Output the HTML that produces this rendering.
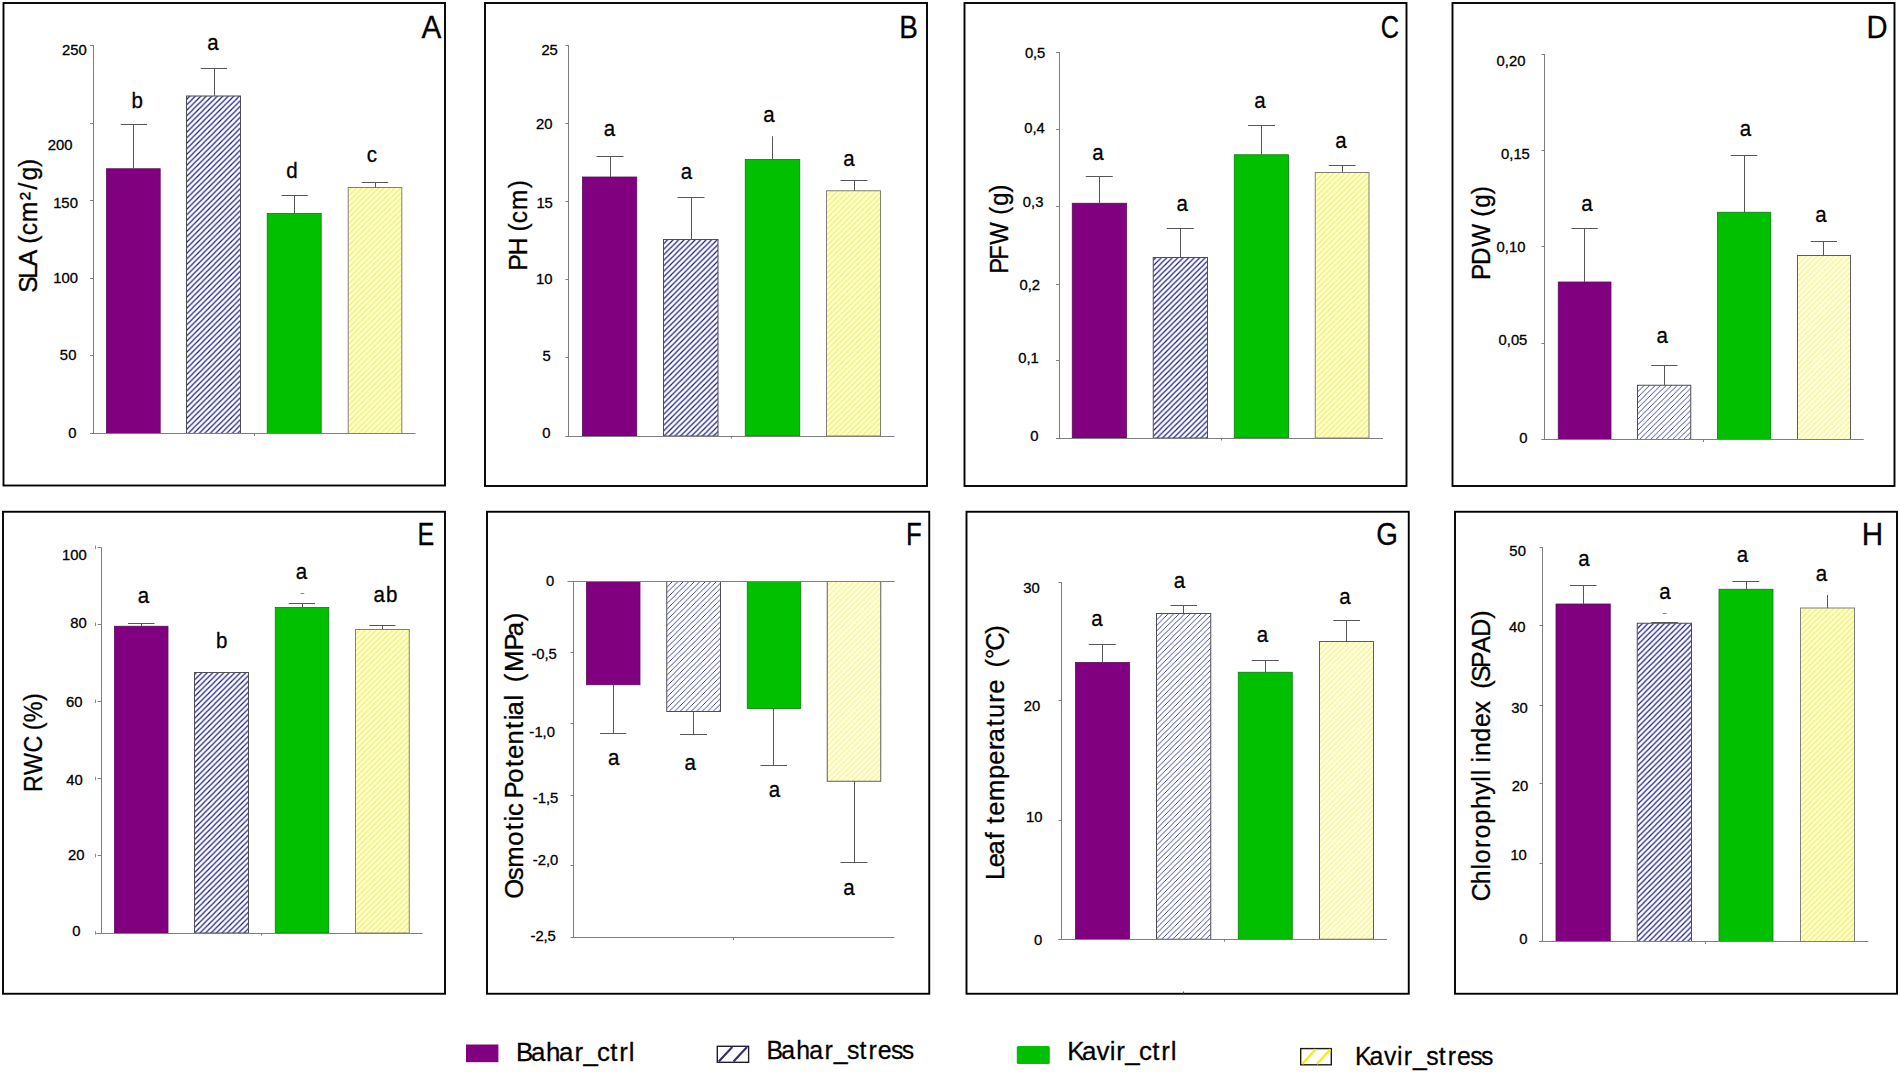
<!DOCTYPE html>
<html lang="en"><head><meta charset="utf-8"><title>Figure</title>
<style>
html,body{margin:0;padding:0;background:#fff;}
body{width:1900px;height:1073px;overflow:hidden;}
svg{display:block;font-family:"Liberation Sans", sans-serif;fill:#000;}
text{white-space:pre;}
</style></head><body>
<svg width="1900" height="1073" viewBox="0 0 1900 1073">
<defs>
<pattern id="hb" patternUnits="userSpaceOnUse" width="5.5" height="5.5">
<rect width="5.5" height="5.5" fill="#fff"/>
<path d="M-1.375 1.375 L1.375 -1.375 M0 5.5 L5.5 0 M4.125 6.875 L6.875 4.125" stroke="#1b1b8c" stroke-width="1.2"/>
</pattern>
<pattern id="hy" patternUnits="userSpaceOnUse" width="5.5" height="5.5">
<rect width="5.5" height="5.5" fill="#ffffda"/>
<path d="M-1.375 1.375 L1.375 -1.375 M0 5.5 L5.5 0 M4.125 6.875 L6.875 4.125" stroke="#f2f25a" stroke-width="1.25"/>
</pattern>
<pattern id="hb2" patternUnits="userSpaceOnUse" width="5.5" height="5.5">
<rect width="5.5" height="5.5" fill="#fff"/>
<path d="M-1.375 1.375 L1.375 -1.375 M0 5.5 L5.5 0 M4.125 6.875 L6.875 4.125" stroke="#24248e" stroke-width="0.85"/>
</pattern>
<pattern id="hy2" patternUnits="userSpaceOnUse" width="5.5" height="5.5">
<rect width="5.5" height="5.5" fill="#ffffe4"/>
<path d="M-1.375 1.375 L1.375 -1.375 M0 5.5 L5.5 0 M4.125 6.875 L6.875 4.125" stroke="#f4f478" stroke-width="1.05"/>
</pattern>
</defs>
<rect width="1900" height="1073" fill="#fff"/>
<rect x="3.50" y="3.00" width="441.50" height="482.50" fill="#fff" stroke="#000" stroke-width="1.9"/>
<rect x="106.50" y="168.75" width="53.70" height="264.75" fill="#800080" stroke="#5a0a5a" stroke-width="0.8"/>
<rect x="186.50" y="96.00" width="54.00" height="337.50" fill="url(#hb)" stroke="#4d4d55" stroke-width="1"/>
<rect x="267.20" y="213.50" width="54.00" height="220.00" fill="#00c000" stroke="#0b7a0b" stroke-width="0.8"/>
<rect x="348.20" y="187.50" width="53.60" height="246.00" fill="url(#hy)" stroke="#808078" stroke-width="1"/>
<line x1="133.50" y1="168.75" x2="133.50" y2="124.20" stroke="#565656" stroke-width="1"/>
<line x1="120.75" y1="124.50" x2="147.00" y2="124.50" stroke="#565656" stroke-width="1"/>
<line x1="214.50" y1="96.00" x2="214.50" y2="68.00" stroke="#565656" stroke-width="1"/>
<line x1="200.75" y1="68.50" x2="227.00" y2="68.50" stroke="#565656" stroke-width="1"/>
<line x1="294.50" y1="213.50" x2="294.50" y2="195.50" stroke="#565656" stroke-width="1"/>
<line x1="281.50" y1="195.50" x2="307.75" y2="195.50" stroke="#565656" stroke-width="1"/>
<line x1="375.50" y1="187.50" x2="375.50" y2="182.50" stroke="#565656" stroke-width="1"/>
<line x1="361.75" y1="182.50" x2="388.20" y2="182.50" stroke="#565656" stroke-width="1"/>
<line x1="93.50" y1="45.20" x2="93.50" y2="433.50" stroke="#7f7f7f" stroke-width="1"/>
<line x1="90.00" y1="433.50" x2="415.50" y2="433.50" stroke="#7f7f7f" stroke-width="1"/>
<line x1="254.50" y1="433.50" x2="254.50" y2="436.00" stroke="#7f7f7f" stroke-width="1"/>
<line x1="90.00" y1="45.50" x2="93.50" y2="45.50" stroke="#7f7f7f" stroke-width="1"/>
<line x1="90.00" y1="123.50" x2="93.50" y2="123.50" stroke="#7f7f7f" stroke-width="1"/>
<line x1="90.00" y1="200.50" x2="93.50" y2="200.50" stroke="#7f7f7f" stroke-width="1"/>
<line x1="90.00" y1="278.50" x2="93.50" y2="278.50" stroke="#7f7f7f" stroke-width="1"/>
<line x1="90.00" y1="355.50" x2="93.50" y2="355.50" stroke="#7f7f7f" stroke-width="1"/>
<line x1="90.00" y1="433.50" x2="93.50" y2="433.50" stroke="#7f7f7f" stroke-width="1"/>
<text xml:space="preserve" transform="translate(62.77 54.65) scale(1.0105 1)" font-size="14.70" x="-0.70 7.35 15.63" stroke="#000" stroke-width="0.3">250</text>
<text xml:space="preserve" transform="translate(48.37 150.15) scale(1.0105 1)" font-size="14.70" x="-0.70 7.45 15.63" stroke="#000" stroke-width="0.3">200</text>
<text xml:space="preserve" transform="translate(54.55 207.65) scale(1.0105 1)" font-size="14.70" x="-1.26 6.69 14.96" stroke="#000" stroke-width="0.3">150</text>
<text xml:space="preserve" transform="translate(54.55 283.15) scale(1.0105 1)" font-size="14.70" x="-1.26 6.78 14.96" stroke="#000" stroke-width="0.3">100</text>
<text xml:space="preserve" transform="translate(60.64 359.65) scale(1.0105 1)" font-size="14.70" x="-0.83 7.44" stroke="#000" stroke-width="0.3">50</text>
<text xml:space="preserve" transform="translate(68.58 438.15) scale(1.0105 1)" font-size="14.70" x="-0.42" stroke="#000" stroke-width="0.3">0</text>
<text xml:space="preserve" transform="translate(132.58 108.10) scale(0.9000 1)" font-size="22.80" x="-1.13" stroke="#000" stroke-width="0.3">b</text>
<text xml:space="preserve" transform="translate(209.08 49.60) scale(0.9000 1)" font-size="22.80" x="-1.91" stroke="#000" stroke-width="0.3">a</text>
<text xml:space="preserve" transform="translate(286.88 177.70) scale(0.9000 1)" font-size="22.80" x="-0.61" stroke="#000" stroke-width="0.3">d</text>
<text xml:space="preserve" transform="translate(367.66 161.90) scale(0.9000 1)" font-size="22.80" x="-1.06" stroke="#000" stroke-width="0.3">c</text>
<text xml:space="preserve" transform="translate(421.70 37.50) scale(0.9241 1)" font-size="32.20" x="-0.14" stroke="#000" stroke-width="0.3">A</text>
<text xml:space="preserve" transform="translate(37.00 289.98) rotate(-90) scale(0.9464 1)" font-size="26.10" x="-2.82 11.87 25.10 42.07 48.83 57.74 71.58 94.81 106.16 115.73 129.98" stroke="#000" stroke-width="0.3">SLA (cm²/g)</text>
<rect x="485.00" y="3.00" width="442.00" height="483.00" fill="#fff" stroke="#000" stroke-width="1.9"/>
<rect x="582.50" y="177.00" width="54.25" height="259.00" fill="#800080" stroke="#5a0a5a" stroke-width="0.8"/>
<rect x="663.50" y="239.50" width="54.50" height="196.50" fill="url(#hb)" stroke="#4d4d55" stroke-width="1"/>
<rect x="745.25" y="159.50" width="54.50" height="276.50" fill="#00c000" stroke="#0b7a0b" stroke-width="0.8"/>
<rect x="826.50" y="190.75" width="54.00" height="245.25" fill="url(#hy)" stroke="#808078" stroke-width="1"/>
<line x1="610.50" y1="177.00" x2="610.50" y2="156.25" stroke="#565656" stroke-width="1"/>
<line x1="596.50" y1="156.50" x2="623.50" y2="156.50" stroke="#565656" stroke-width="1"/>
<line x1="691.50" y1="239.50" x2="691.50" y2="197.50" stroke="#565656" stroke-width="1"/>
<line x1="677.50" y1="197.50" x2="704.50" y2="197.50" stroke="#565656" stroke-width="1"/>
<line x1="772.50" y1="159.50" x2="772.50" y2="136.25" stroke="#565656" stroke-width="1"/>
<line x1="854.50" y1="190.75" x2="854.50" y2="180.75" stroke="#565656" stroke-width="1"/>
<line x1="840.50" y1="180.50" x2="867.50" y2="180.50" stroke="#565656" stroke-width="1"/>
<line x1="568.50" y1="45.00" x2="568.50" y2="436.00" stroke="#7f7f7f" stroke-width="1"/>
<line x1="565.50" y1="436.50" x2="894.50" y2="436.50" stroke="#7f7f7f" stroke-width="1"/>
<line x1="731.50" y1="436.00" x2="731.50" y2="438.50" stroke="#7f7f7f" stroke-width="1"/>
<line x1="565.50" y1="45.50" x2="568.75" y2="45.50" stroke="#7f7f7f" stroke-width="1"/>
<line x1="565.50" y1="123.50" x2="568.75" y2="123.50" stroke="#7f7f7f" stroke-width="1"/>
<line x1="565.50" y1="201.50" x2="568.75" y2="201.50" stroke="#7f7f7f" stroke-width="1"/>
<line x1="565.50" y1="279.50" x2="568.75" y2="279.50" stroke="#7f7f7f" stroke-width="1"/>
<line x1="565.50" y1="357.50" x2="568.75" y2="357.50" stroke="#7f7f7f" stroke-width="1"/>
<line x1="565.50" y1="436.50" x2="568.75" y2="436.50" stroke="#7f7f7f" stroke-width="1"/>
<text xml:space="preserve" transform="translate(542.17 54.65) scale(1.0105 1)" font-size="14.70" x="-0.70 7.35" stroke="#000" stroke-width="0.3">25</text>
<text xml:space="preserve" transform="translate(536.63 129.15) scale(1.0105 1)" font-size="14.70" x="-0.70 7.45" stroke="#000" stroke-width="0.3">20</text>
<text xml:space="preserve" transform="translate(537.85 207.65) scale(1.0105 1)" font-size="14.70" x="-1.26 6.69" stroke="#000" stroke-width="0.3">15</text>
<text xml:space="preserve" transform="translate(537.31 284.15) scale(1.0105 1)" font-size="14.70" x="-1.26 6.78" stroke="#000" stroke-width="0.3">10</text>
<text xml:space="preserve" transform="translate(543.44 361.15) scale(1.0105 1)" font-size="14.70" x="-0.83" stroke="#000" stroke-width="0.3">5</text>
<text xml:space="preserve" transform="translate(542.58 438.15) scale(1.0105 1)" font-size="14.70" x="-0.42" stroke="#000" stroke-width="0.3">0</text>
<text xml:space="preserve" transform="translate(605.58 135.70) scale(0.9000 1)" font-size="22.80" x="-1.91" stroke="#000" stroke-width="0.3">a</text>
<text xml:space="preserve" transform="translate(682.58 178.70) scale(0.9000 1)" font-size="22.80" x="-1.91" stroke="#000" stroke-width="0.3">a</text>
<text xml:space="preserve" transform="translate(765.08 122.45) scale(0.9000 1)" font-size="22.80" x="-1.91" stroke="#000" stroke-width="0.3">a</text>
<text xml:space="preserve" transform="translate(845.08 166.20) scale(0.9000 1)" font-size="22.80" x="-1.91" stroke="#000" stroke-width="0.3">a</text>
<text xml:space="preserve" transform="translate(901.49 37.50) scale(0.8687 1)" font-size="32.20" x="-2.71" stroke="#000" stroke-width="0.3">B</text>
<text xml:space="preserve" transform="translate(527.00 267.68) rotate(-90) scale(0.9346 1)" font-size="26.10" x="-2.89 13.23 31.75 38.62 47.66 61.72 85.03" stroke="#000" stroke-width="0.3">PH (cm)</text>
<rect x="964.50" y="3.00" width="442.00" height="483.00" fill="#fff" stroke="#000" stroke-width="1.9"/>
<rect x="1072.25" y="203.25" width="54.25" height="234.75" fill="#800080" stroke="#5a0a5a" stroke-width="0.8"/>
<rect x="1153.25" y="257.50" width="54.25" height="180.50" fill="url(#hb)" stroke="#4d4d55" stroke-width="1"/>
<rect x="1234.25" y="154.75" width="54.25" height="283.25" fill="#00c000" stroke="#0b7a0b" stroke-width="0.8"/>
<rect x="1315.25" y="172.50" width="53.75" height="265.50" fill="url(#hy)" stroke="#808078" stroke-width="1"/>
<line x1="1099.50" y1="203.25" x2="1099.50" y2="176.50" stroke="#565656" stroke-width="1"/>
<line x1="1085.75" y1="176.50" x2="1112.75" y2="176.50" stroke="#565656" stroke-width="1"/>
<line x1="1180.50" y1="257.50" x2="1180.50" y2="228.25" stroke="#565656" stroke-width="1"/>
<line x1="1166.75" y1="228.50" x2="1193.75" y2="228.50" stroke="#565656" stroke-width="1"/>
<line x1="1261.50" y1="154.75" x2="1261.50" y2="125.50" stroke="#565656" stroke-width="1"/>
<line x1="1248.00" y1="125.50" x2="1275.00" y2="125.50" stroke="#565656" stroke-width="1"/>
<line x1="1342.50" y1="172.50" x2="1342.50" y2="165.50" stroke="#565656" stroke-width="1"/>
<line x1="1328.75" y1="165.50" x2="1355.50" y2="165.50" stroke="#565656" stroke-width="1"/>
<line x1="1059.50" y1="52.00" x2="1059.50" y2="438.00" stroke="#7f7f7f" stroke-width="1"/>
<line x1="1056.00" y1="438.50" x2="1383.00" y2="438.50" stroke="#7f7f7f" stroke-width="1"/>
<line x1="1221.50" y1="438.00" x2="1221.50" y2="440.50" stroke="#7f7f7f" stroke-width="1"/>
<line x1="1056.00" y1="52.50" x2="1059.00" y2="52.50" stroke="#7f7f7f" stroke-width="1"/>
<line x1="1056.00" y1="129.50" x2="1059.00" y2="129.50" stroke="#7f7f7f" stroke-width="1"/>
<line x1="1056.00" y1="206.50" x2="1059.00" y2="206.50" stroke="#7f7f7f" stroke-width="1"/>
<line x1="1056.00" y1="284.50" x2="1059.00" y2="284.50" stroke="#7f7f7f" stroke-width="1"/>
<line x1="1056.00" y1="360.50" x2="1059.00" y2="360.50" stroke="#7f7f7f" stroke-width="1"/>
<line x1="1056.00" y1="438.50" x2="1059.00" y2="438.50" stroke="#7f7f7f" stroke-width="1"/>
<text xml:space="preserve" transform="translate(1025.29 57.65) scale(1.0076 1)" font-size="14.70" x="-0.41 7.78 11.73" stroke="#000" stroke-width="0.3">0,5</text>
<text xml:space="preserve" transform="translate(1024.60 132.65) scale(1.0076 1)" font-size="14.70" x="-0.41 7.78 11.88" stroke="#000" stroke-width="0.3">0,4</text>
<text xml:space="preserve" transform="translate(1023.25 207.45) scale(1.0076 1)" font-size="14.70" x="-0.41 7.78 11.94" stroke="#000" stroke-width="0.3">0,3</text>
<text xml:space="preserve" transform="translate(1019.82 290.45) scale(1.0076 1)" font-size="14.70" x="-0.41 7.78 11.85" stroke="#000" stroke-width="0.3">0,2</text>
<text xml:space="preserve" transform="translate(1018.56 363.15) scale(1.0076 1)" font-size="14.70" x="-0.41 7.78 11.96" stroke="#000" stroke-width="0.3">0,1</text>
<text xml:space="preserve" transform="translate(1030.58 440.65) scale(1.0105 1)" font-size="14.70" x="-0.42" stroke="#000" stroke-width="0.3">0</text>
<text xml:space="preserve" transform="translate(1094.08 159.95) scale(0.9000 1)" font-size="22.80" x="-1.91" stroke="#000" stroke-width="0.3">a</text>
<text xml:space="preserve" transform="translate(1178.33 211.20) scale(0.9000 1)" font-size="22.80" x="-1.91" stroke="#000" stroke-width="0.3">a</text>
<text xml:space="preserve" transform="translate(1256.08 108.20) scale(0.9000 1)" font-size="22.80" x="-1.91" stroke="#000" stroke-width="0.3">a</text>
<text xml:space="preserve" transform="translate(1337.08 148.20) scale(0.9000 1)" font-size="22.80" x="-1.91" stroke="#000" stroke-width="0.3">a</text>
<text xml:space="preserve" transform="translate(1381.75 37.50) scale(0.7865 1)" font-size="32.20" x="-1.34" stroke="#000" stroke-width="0.3">C</text>
<text xml:space="preserve" transform="translate(1007.50 271.28) rotate(-90) scale(0.9135 1)" font-size="26.10" x="-2.75 12.75 29.02 54.83 61.88 71.67 86.32" stroke="#000" stroke-width="0.3">PFW (g)</text>
<rect x="1452.50" y="3.00" width="442.00" height="483.00" fill="#fff" stroke="#000" stroke-width="1.9"/>
<rect x="1558.25" y="282.00" width="52.75" height="157.50" fill="#800080" stroke="#5a0a5a" stroke-width="0.8"/>
<rect x="1637.50" y="385.25" width="53.25" height="54.25" fill="url(#hb2)" stroke="#4d4d55" stroke-width="1"/>
<rect x="1717.50" y="212.25" width="53.25" height="227.25" fill="#00c000" stroke="#0b7a0b" stroke-width="0.8"/>
<rect x="1797.50" y="255.50" width="53.00" height="184.00" fill="url(#hy2)" stroke="#5e5e58" stroke-width="1"/>
<line x1="1584.50" y1="282.00" x2="1584.50" y2="228.25" stroke="#565656" stroke-width="1"/>
<line x1="1571.50" y1="228.50" x2="1597.75" y2="228.50" stroke="#565656" stroke-width="1"/>
<line x1="1664.50" y1="385.25" x2="1664.50" y2="365.25" stroke="#565656" stroke-width="1"/>
<line x1="1651.25" y1="365.50" x2="1677.50" y2="365.50" stroke="#565656" stroke-width="1"/>
<line x1="1744.50" y1="212.25" x2="1744.50" y2="155.25" stroke="#565656" stroke-width="1"/>
<line x1="1730.75" y1="155.50" x2="1757.25" y2="155.50" stroke="#565656" stroke-width="1"/>
<line x1="1823.50" y1="255.50" x2="1823.50" y2="241.75" stroke="#565656" stroke-width="1"/>
<line x1="1810.75" y1="241.50" x2="1837.00" y2="241.50" stroke="#565656" stroke-width="1"/>
<line x1="1544.50" y1="54.00" x2="1544.50" y2="439.50" stroke="#7f7f7f" stroke-width="1"/>
<line x1="1541.50" y1="439.50" x2="1863.75" y2="439.50" stroke="#7f7f7f" stroke-width="1"/>
<line x1="1703.50" y1="439.50" x2="1703.50" y2="442.00" stroke="#7f7f7f" stroke-width="1"/>
<line x1="1541.50" y1="54.50" x2="1544.50" y2="54.50" stroke="#7f7f7f" stroke-width="1"/>
<line x1="1541.50" y1="150.50" x2="1544.50" y2="150.50" stroke="#7f7f7f" stroke-width="1"/>
<line x1="1541.50" y1="246.50" x2="1544.50" y2="246.50" stroke="#7f7f7f" stroke-width="1"/>
<line x1="1541.50" y1="343.50" x2="1544.50" y2="343.50" stroke="#7f7f7f" stroke-width="1"/>
<line x1="1541.50" y1="439.50" x2="1544.50" y2="439.50" stroke="#7f7f7f" stroke-width="1"/>
<text xml:space="preserve" transform="translate(1496.99 65.90) scale(1.0084 1)" font-size="14.70" x="-0.41 7.77 11.84 20.01" stroke="#000" stroke-width="0.3">0,20</text>
<text xml:space="preserve" transform="translate(1501.53 159.40) scale(1.0084 1)" font-size="14.70" x="-0.41 7.77 11.95 19.91" stroke="#000" stroke-width="0.3">0,15</text>
<text xml:space="preserve" transform="translate(1496.99 252.05) scale(1.0084 1)" font-size="14.70" x="-0.41 7.77 11.95 20.01" stroke="#000" stroke-width="0.3">0,10</text>
<text xml:space="preserve" transform="translate(1499.03 345.15) scale(1.0084 1)" font-size="14.70" x="-0.41 7.77 11.82 19.91" stroke="#000" stroke-width="0.3">0,05</text>
<text xml:space="preserve" transform="translate(1519.58 442.65) scale(1.0105 1)" font-size="14.70" x="-0.42" stroke="#000" stroke-width="0.3">0</text>
<text xml:space="preserve" transform="translate(1583.08 210.70) scale(0.9000 1)" font-size="22.80" x="-1.91" stroke="#000" stroke-width="0.3">a</text>
<text xml:space="preserve" transform="translate(1658.33 343.45) scale(0.9000 1)" font-size="22.80" x="-1.91" stroke="#000" stroke-width="0.3">a</text>
<text xml:space="preserve" transform="translate(1741.58 135.70) scale(0.9000 1)" font-size="22.80" x="-1.91" stroke="#000" stroke-width="0.3">a</text>
<text xml:space="preserve" transform="translate(1817.08 222.20) scale(0.9000 1)" font-size="22.80" x="-1.91" stroke="#000" stroke-width="0.3">a</text>
<text xml:space="preserve" transform="translate(1868.68 37.50) scale(0.9075 1)" font-size="32.20" x="-2.46" stroke="#000" stroke-width="0.3">D</text>
<text xml:space="preserve" transform="translate(1489.60 277.47) rotate(-90) scale(0.9305 1)" font-size="26.10" x="-2.86 13.29 32.95 58.44 65.34 74.92 89.35" stroke="#000" stroke-width="0.3">PDW (g)</text>
<rect x="3.00" y="511.75" width="442.00" height="482.00" fill="#fff" stroke="#000" stroke-width="1.9"/>
<rect x="114.50" y="626.25" width="53.50" height="306.75" fill="#800080" stroke="#5a0a5a" stroke-width="0.8"/>
<rect x="194.50" y="672.50" width="54.00" height="260.50" fill="url(#hb)" stroke="#4d4d55" stroke-width="1"/>
<rect x="275.25" y="607.50" width="53.50" height="325.50" fill="#00c000" stroke="#0b7a0b" stroke-width="0.8"/>
<rect x="355.50" y="629.50" width="53.75" height="303.50" fill="url(#hy)" stroke="#808078" stroke-width="1"/>
<line x1="141.50" y1="626.25" x2="141.50" y2="623.25" stroke="#565656" stroke-width="1"/>
<line x1="128.00" y1="623.50" x2="154.50" y2="623.50" stroke="#565656" stroke-width="1"/>
<line x1="221.50" y1="672.50" x2="221.50" y2="672.00" stroke="#565656" stroke-width="1"/>
<line x1="207.50" y1="672.50" x2="235.00" y2="672.50" stroke="#565656" stroke-width="1"/>
<line x1="302.50" y1="607.50" x2="302.50" y2="603.25" stroke="#565656" stroke-width="1"/>
<line x1="288.75" y1="603.50" x2="315.00" y2="603.50" stroke="#565656" stroke-width="1"/>
<line x1="382.50" y1="629.50" x2="382.50" y2="625.50" stroke="#565656" stroke-width="1"/>
<line x1="369.25" y1="625.50" x2="395.50" y2="625.50" stroke="#565656" stroke-width="1"/>
<line x1="300.50" y1="593.50" x2="304.25" y2="593.50" stroke="#8a8a8a" stroke-width="1"/>
<line x1="101.50" y1="547.50" x2="101.50" y2="933.00" stroke="#7f7f7f" stroke-width="1"/>
<line x1="96.25" y1="933.50" x2="422.50" y2="933.50" stroke="#7f7f7f" stroke-width="1"/>
<line x1="261.50" y1="933.00" x2="261.50" y2="935.50" stroke="#7f7f7f" stroke-width="1"/>
<line x1="97.60" y1="547.50" x2="101.25" y2="547.50" stroke="#7f7f7f" stroke-width="1"/>
<line x1="95.50" y1="545.50" x2="95.50" y2="549.10" stroke="#8c8c8c" stroke-width="1"/>
<line x1="97.60" y1="624.50" x2="101.25" y2="624.50" stroke="#7f7f7f" stroke-width="1"/>
<line x1="95.50" y1="622.50" x2="95.50" y2="626.10" stroke="#8c8c8c" stroke-width="1"/>
<line x1="97.60" y1="701.50" x2="101.25" y2="701.50" stroke="#7f7f7f" stroke-width="1"/>
<line x1="95.50" y1="699.50" x2="95.50" y2="703.10" stroke="#8c8c8c" stroke-width="1"/>
<line x1="97.60" y1="778.50" x2="101.25" y2="778.50" stroke="#7f7f7f" stroke-width="1"/>
<line x1="95.50" y1="776.75" x2="95.50" y2="780.35" stroke="#8c8c8c" stroke-width="1"/>
<line x1="97.60" y1="855.50" x2="101.25" y2="855.50" stroke="#7f7f7f" stroke-width="1"/>
<line x1="95.50" y1="853.75" x2="95.50" y2="857.35" stroke="#8c8c8c" stroke-width="1"/>
<line x1="97.60" y1="933.50" x2="101.25" y2="933.50" stroke="#7f7f7f" stroke-width="1"/>
<line x1="95.50" y1="931.00" x2="95.50" y2="934.60" stroke="#8c8c8c" stroke-width="1"/>
<text xml:space="preserve" transform="translate(63.30 560.15) scale(1.0105 1)" font-size="14.70" x="-1.26 6.78 14.96" stroke="#000" stroke-width="0.3">100</text>
<text xml:space="preserve" transform="translate(70.80 628.15) scale(1.0105 1)" font-size="14.70" x="-0.65 7.53" stroke="#000" stroke-width="0.3">80</text>
<text xml:space="preserve" transform="translate(66.63 707.15) scale(1.0105 1)" font-size="14.70" x="-0.69 7.45" stroke="#000" stroke-width="0.3">60</text>
<text xml:space="preserve" transform="translate(66.58 785.35) scale(1.0105 1)" font-size="14.70" x="-0.23 7.90" stroke="#000" stroke-width="0.3">40</text>
<text xml:space="preserve" transform="translate(68.63 859.65) scale(1.0105 1)" font-size="14.70" x="-0.70 7.45" stroke="#000" stroke-width="0.3">20</text>
<text xml:space="preserve" transform="translate(72.58 936.40) scale(1.0105 1)" font-size="14.70" x="-0.42" stroke="#000" stroke-width="0.3">0</text>
<text xml:space="preserve" transform="translate(139.58 603.20) scale(0.9000 1)" font-size="22.80" x="-1.91" stroke="#000" stroke-width="0.3">a</text>
<text xml:space="preserve" transform="translate(217.08 647.70) scale(0.9000 1)" font-size="22.80" x="-1.13" stroke="#000" stroke-width="0.3">b</text>
<text xml:space="preserve" transform="translate(297.58 578.70) scale(0.9000 1)" font-size="22.80" x="-1.91" stroke="#000" stroke-width="0.3">a</text>
<text xml:space="preserve" transform="translate(375.10 602.45) scale(0.9000 1)" font-size="22.80" x="-1.91 12.15" stroke="#000" stroke-width="0.3">ab</text>
<text xml:space="preserve" transform="translate(419.81 544.50) scale(0.7798 1)" font-size="32.20" x="-3.11" stroke="#000" stroke-width="0.3">E</text>
<text xml:space="preserve" transform="translate(41.50 789.65) rotate(-90) scale(0.8929 1)" font-size="26.10" x="-2.73 16.40 41.65 59.32 66.57 75.60 99.19" stroke="#000" stroke-width="0.3">RWC (%)</text>
<rect x="487.00" y="511.75" width="442.25" height="482.00" fill="#fff" stroke="#000" stroke-width="1.9"/>
<rect x="586.50" y="581.50" width="53.50" height="103.25" fill="#800080" stroke="#5a0a5a" stroke-width="0.8"/>
<rect x="666.75" y="581.50" width="53.75" height="130.00" fill="url(#hb2)" stroke="#4d4d55" stroke-width="1"/>
<rect x="747.25" y="581.50" width="53.50" height="127.00" fill="#00c000" stroke="#0b7a0b" stroke-width="0.8"/>
<rect x="827.25" y="581.50" width="53.50" height="199.75" fill="url(#hy2)" stroke="#5e5e58" stroke-width="1"/>
<line x1="613.50" y1="684.75" x2="613.50" y2="733.75" stroke="#565656" stroke-width="1"/>
<line x1="600.00" y1="733.50" x2="626.25" y2="733.50" stroke="#565656" stroke-width="1"/>
<line x1="693.50" y1="711.50" x2="693.50" y2="734.75" stroke="#565656" stroke-width="1"/>
<line x1="680.00" y1="734.50" x2="707.00" y2="734.50" stroke="#565656" stroke-width="1"/>
<line x1="773.50" y1="708.50" x2="773.50" y2="765.00" stroke="#565656" stroke-width="1"/>
<line x1="760.50" y1="765.50" x2="787.00" y2="765.50" stroke="#565656" stroke-width="1"/>
<line x1="854.50" y1="781.25" x2="854.50" y2="862.25" stroke="#565656" stroke-width="1"/>
<line x1="840.50" y1="862.50" x2="867.50" y2="862.50" stroke="#565656" stroke-width="1"/>
<line x1="573.50" y1="581.50" x2="573.50" y2="937.50" stroke="#7f7f7f" stroke-width="1"/>
<line x1="567.50" y1="581.50" x2="894.50" y2="581.50" stroke="#7f7f7f" stroke-width="1"/>
<line x1="573.25" y1="937.50" x2="894.50" y2="937.50" stroke="#7f7f7f" stroke-width="1"/>
<line x1="733.50" y1="937.50" x2="733.50" y2="940.00" stroke="#7f7f7f" stroke-width="1"/>
<line x1="570.50" y1="581.50" x2="573.25" y2="581.50" stroke="#7f7f7f" stroke-width="1"/>
<line x1="570.50" y1="652.50" x2="573.25" y2="652.50" stroke="#7f7f7f" stroke-width="1"/>
<line x1="570.50" y1="723.50" x2="573.25" y2="723.50" stroke="#7f7f7f" stroke-width="1"/>
<line x1="570.50" y1="795.50" x2="573.25" y2="795.50" stroke="#7f7f7f" stroke-width="1"/>
<line x1="570.50" y1="865.50" x2="573.25" y2="865.50" stroke="#7f7f7f" stroke-width="1"/>
<line x1="570.50" y1="937.50" x2="573.25" y2="937.50" stroke="#7f7f7f" stroke-width="1"/>
<text xml:space="preserve" transform="translate(546.33 585.90) scale(1.0105 1)" font-size="14.70" x="-0.42" stroke="#000" stroke-width="0.3">0</text>
<text xml:space="preserve" transform="translate(531.98 659.15) scale(1.0099 1)" font-size="14.70" x="-0.56 4.35 12.52 16.47" stroke="#000" stroke-width="0.3">-0,5</text>
<text xml:space="preserve" transform="translate(529.94 736.75) scale(1.0099 1)" font-size="14.70" x="-0.56 4.49 12.52 16.56" stroke="#000" stroke-width="0.3">-1,0</text>
<text xml:space="preserve" transform="translate(533.28 802.95) scale(1.0099 1)" font-size="14.70" x="-0.56 4.49 12.52 16.47" stroke="#000" stroke-width="0.3">-1,5</text>
<text xml:space="preserve" transform="translate(533.24 864.95) scale(1.0099 1)" font-size="14.70" x="-0.56 4.37 12.52 16.56" stroke="#000" stroke-width="0.3">-2,0</text>
<text xml:space="preserve" transform="translate(530.98 940.65) scale(1.0099 1)" font-size="14.70" x="-0.56 4.37 12.52 16.47" stroke="#000" stroke-width="0.3">-2,5</text>
<text xml:space="preserve" transform="translate(609.83 765.20) scale(0.9000 1)" font-size="22.80" x="-1.91" stroke="#000" stroke-width="0.3">a</text>
<text xml:space="preserve" transform="translate(686.33 770.20) scale(0.9000 1)" font-size="22.80" x="-1.91" stroke="#000" stroke-width="0.3">a</text>
<text xml:space="preserve" transform="translate(770.58 797.45) scale(0.9000 1)" font-size="22.80" x="-1.91" stroke="#000" stroke-width="0.3">a</text>
<text xml:space="preserve" transform="translate(845.08 894.95) scale(0.9000 1)" font-size="22.80" x="-1.91" stroke="#000" stroke-width="0.3">a</text>
<text xml:space="preserve" transform="translate(908.14 544.50) scale(0.8013 1)" font-size="32.20" x="-2.73" stroke="#000" stroke-width="0.3">F</text>
<text xml:space="preserve" transform="translate(522.50 896.96) rotate(-90) scale(0.9823 1)" font-size="26.10" x="-1.71 17.04 29.64 52.05 67.85 76.73 82.40 94.56 100.26 116.39 132.20 140.58 155.21 170.90 179.78 184.68 199.98 205.75 212.20 218.66 229.00 250.91 265.51 280.81" stroke="#000" stroke-width="0.3">Osmotic Potential  (MPa)</text>
<rect x="966.50" y="511.75" width="442.25" height="482.00" fill="#fff" stroke="#000" stroke-width="1.9"/>
<rect x="1075.50" y="662.50" width="54.00" height="276.75" fill="#800080" stroke="#5a0a5a" stroke-width="0.8"/>
<rect x="1156.50" y="613.50" width="54.25" height="325.75" fill="url(#hb2)" stroke="#4d4d55" stroke-width="1"/>
<rect x="1238.25" y="672.25" width="54.00" height="267.00" fill="#00c000" stroke="#0b7a0b" stroke-width="0.8"/>
<rect x="1319.50" y="641.50" width="54.00" height="297.75" fill="url(#hy2)" stroke="#5e5e58" stroke-width="1"/>
<line x1="1102.50" y1="662.50" x2="1102.50" y2="644.25" stroke="#565656" stroke-width="1"/>
<line x1="1088.75" y1="644.50" x2="1115.75" y2="644.50" stroke="#565656" stroke-width="1"/>
<line x1="1183.50" y1="613.50" x2="1183.50" y2="605.50" stroke="#565656" stroke-width="1"/>
<line x1="1170.50" y1="605.50" x2="1197.00" y2="605.50" stroke="#565656" stroke-width="1"/>
<line x1="1265.50" y1="672.25" x2="1265.50" y2="660.00" stroke="#565656" stroke-width="1"/>
<line x1="1251.75" y1="660.50" x2="1278.75" y2="660.50" stroke="#565656" stroke-width="1"/>
<line x1="1346.50" y1="641.50" x2="1346.50" y2="620.00" stroke="#565656" stroke-width="1"/>
<line x1="1333.25" y1="620.50" x2="1360.00" y2="620.50" stroke="#565656" stroke-width="1"/>
<line x1="1061.50" y1="582.25" x2="1061.50" y2="939.25" stroke="#7f7f7f" stroke-width="1"/>
<line x1="1058.50" y1="939.50" x2="1387.00" y2="939.50" stroke="#7f7f7f" stroke-width="1"/>
<line x1="1224.50" y1="939.25" x2="1224.50" y2="941.75" stroke="#7f7f7f" stroke-width="1"/>
<line x1="1058.50" y1="582.50" x2="1061.50" y2="582.50" stroke="#7f7f7f" stroke-width="1"/>
<line x1="1058.50" y1="700.50" x2="1061.50" y2="700.50" stroke="#7f7f7f" stroke-width="1"/>
<line x1="1058.50" y1="820.50" x2="1061.50" y2="820.50" stroke="#7f7f7f" stroke-width="1"/>
<line x1="1058.50" y1="939.50" x2="1061.50" y2="939.50" stroke="#7f7f7f" stroke-width="1"/>
<text xml:space="preserve" transform="translate(1023.91 593.15) scale(1.0105 1)" font-size="14.70" x="-0.64 7.43" stroke="#000" stroke-width="0.3">30</text>
<text xml:space="preserve" transform="translate(1024.43 711.35) scale(1.0105 1)" font-size="14.70" x="-0.70 7.45" stroke="#000" stroke-width="0.3">20</text>
<text xml:space="preserve" transform="translate(1027.31 821.95) scale(1.0105 1)" font-size="14.70" x="-1.26 6.78" stroke="#000" stroke-width="0.3">10</text>
<text xml:space="preserve" transform="translate(1034.33 945.15) scale(1.0105 1)" font-size="14.70" x="-0.42" stroke="#000" stroke-width="0.3">0</text>
<text xml:space="preserve" transform="translate(1093.08 625.70) scale(0.9000 1)" font-size="22.80" x="-1.91" stroke="#000" stroke-width="0.3">a</text>
<text xml:space="preserve" transform="translate(1175.58 588.20) scale(0.9000 1)" font-size="22.80" x="-1.91" stroke="#000" stroke-width="0.3">a</text>
<text xml:space="preserve" transform="translate(1258.58 642.20) scale(0.9000 1)" font-size="22.80" x="-1.91" stroke="#000" stroke-width="0.3">a</text>
<text xml:space="preserve" transform="translate(1341.08 603.95) scale(0.9000 1)" font-size="22.80" x="-1.91" stroke="#000" stroke-width="0.3">a</text>
<text xml:space="preserve" transform="translate(1377.35 544.50) scale(0.8639 1)" font-size="32.20" x="-1.39" stroke="#000" stroke-width="0.3">G</text>
<text xml:space="preserve" transform="translate(1004.00 877.14) rotate(-90) scale(0.9745 1)" font-size="26.10" x="-3.06 10.07 23.21 38.83 46.59 54.53 63.01 78.09 100.80 115.35 130.38 138.52 154.57 163.33 178.87 188.16 202.16 208.65 215.18 223.89 232.23 249.70" stroke="#000" stroke-width="0.3">Leaf temperature  (°C)</text>
<rect x="1455.00" y="511.75" width="442.00" height="482.00" fill="#fff" stroke="#000" stroke-width="1.9"/>
<rect x="1556.00" y="604.00" width="54.25" height="337.50" fill="#800080" stroke="#5a0a5a" stroke-width="0.8"/>
<rect x="1637.25" y="623.25" width="54.25" height="318.25" fill="url(#hb)" stroke="#4d4d55" stroke-width="1"/>
<rect x="1719.00" y="589.25" width="54.00" height="352.25" fill="#00c000" stroke="#0b7a0b" stroke-width="0.8"/>
<rect x="1800.50" y="608.00" width="54.00" height="333.50" fill="url(#hy)" stroke="#808078" stroke-width="1"/>
<line x1="1583.50" y1="604.00" x2="1583.50" y2="585.25" stroke="#565656" stroke-width="1"/>
<line x1="1570.00" y1="585.50" x2="1596.50" y2="585.50" stroke="#565656" stroke-width="1"/>
<line x1="1664.50" y1="623.25" x2="1664.50" y2="622.50" stroke="#565656" stroke-width="1"/>
<line x1="1651.25" y1="622.50" x2="1678.00" y2="622.50" stroke="#565656" stroke-width="1"/>
<line x1="1746.50" y1="589.25" x2="1746.50" y2="581.50" stroke="#565656" stroke-width="1"/>
<line x1="1732.50" y1="581.50" x2="1759.25" y2="581.50" stroke="#565656" stroke-width="1"/>
<line x1="1827.50" y1="608.00" x2="1827.50" y2="595.00" stroke="#565656" stroke-width="1"/>
<line x1="1662.50" y1="613.50" x2="1666.75" y2="613.50" stroke="#8a8a8a" stroke-width="1"/>
<line x1="1542.50" y1="547.00" x2="1542.50" y2="941.50" stroke="#7f7f7f" stroke-width="1"/>
<line x1="1539.50" y1="941.50" x2="1868.25" y2="941.50" stroke="#7f7f7f" stroke-width="1"/>
<line x1="1705.50" y1="941.50" x2="1705.50" y2="944.00" stroke="#7f7f7f" stroke-width="1"/>
<line x1="1539.50" y1="547.50" x2="1542.50" y2="547.50" stroke="#7f7f7f" stroke-width="1"/>
<line x1="1539.50" y1="625.50" x2="1542.50" y2="625.50" stroke="#7f7f7f" stroke-width="1"/>
<line x1="1539.50" y1="705.50" x2="1542.50" y2="705.50" stroke="#7f7f7f" stroke-width="1"/>
<line x1="1539.50" y1="783.50" x2="1542.50" y2="783.50" stroke="#7f7f7f" stroke-width="1"/>
<line x1="1539.50" y1="863.50" x2="1542.50" y2="863.50" stroke="#7f7f7f" stroke-width="1"/>
<line x1="1539.50" y1="941.50" x2="1542.50" y2="941.50" stroke="#7f7f7f" stroke-width="1"/>
<text xml:space="preserve" transform="translate(1510.14 556.40) scale(1.0105 1)" font-size="14.70" x="-0.83 7.44" stroke="#000" stroke-width="0.3">50</text>
<text xml:space="preserve" transform="translate(1509.18 631.65) scale(1.0105 1)" font-size="14.70" x="-0.23 7.90" stroke="#000" stroke-width="0.3">40</text>
<text xml:space="preserve" transform="translate(1511.96 712.75) scale(1.0105 1)" font-size="14.70" x="-0.64 7.43" stroke="#000" stroke-width="0.3">30</text>
<text xml:space="preserve" transform="translate(1512.43 791.15) scale(1.0105 1)" font-size="14.70" x="-0.70 7.45" stroke="#000" stroke-width="0.3">20</text>
<text xml:space="preserve" transform="translate(1511.71 859.75) scale(1.0105 1)" font-size="14.70" x="-1.26 6.78" stroke="#000" stroke-width="0.3">10</text>
<text xml:space="preserve" transform="translate(1519.58 943.90) scale(1.0105 1)" font-size="14.70" x="-0.42" stroke="#000" stroke-width="0.3">0</text>
<text xml:space="preserve" transform="translate(1580.08 566.45) scale(0.9000 1)" font-size="22.80" x="-1.91" stroke="#000" stroke-width="0.3">a</text>
<text xml:space="preserve" transform="translate(1661.08 598.70) scale(0.9000 1)" font-size="22.80" x="-1.91" stroke="#000" stroke-width="0.3">a</text>
<text xml:space="preserve" transform="translate(1738.58 561.95) scale(0.9000 1)" font-size="22.80" x="-1.91" stroke="#000" stroke-width="0.3">a</text>
<text xml:space="preserve" transform="translate(1817.58 580.95) scale(0.9000 1)" font-size="22.80" x="-1.91" stroke="#000" stroke-width="0.3">a</text>
<text xml:space="preserve" transform="translate(1864.16 544.50) scale(0.9190 1)" font-size="32.20" x="-2.56" stroke="#000" stroke-width="0.3">H</text>
<text xml:space="preserve" transform="translate(1489.50 898.74) rotate(-90) scale(0.9531 1)" font-size="26.10" x="-2.52 15.24 30.60 37.37 53.15 63.11 78.76 94.08 109.08 122.74 129.49 135.46 142.86 149.69 164.83 180.10 194.47 207.05 213.70 220.40 227.48 242.15 258.03 274.90 293.80" stroke="#000" stroke-width="0.3">Chlorophyll index  (SPAD)</text>
<line x1="1183.50" y1="991.50" x2="1183.50" y2="993.50" stroke="#555" stroke-width="1"/>
<rect x="466" y="1044.5" width="32.4" height="17.7" fill="#800080"/>
<rect x="717.3" y="1046.3" width="31.3" height="16" fill="#fff" stroke="#221c38" stroke-width="1.4"/>
<path d="M718.8 1061.6 L732.3 1047 M733.5 1061.6 L747 1047" stroke="#3b2f70" stroke-width="2.2" fill="none"/>
<rect x="1016.8" y="1046" width="33" height="18" rx="1.5" fill="#00c000"/>
<rect x="1300.7" y="1048.6" width="30.6" height="16.2" fill="#fff" stroke="#1c1c14" stroke-width="1.4"/>
<path d="M1302.2 1064 L1315.7 1049.4 M1316.9 1064 L1330.4 1049.4" stroke="#f2ee1e" stroke-width="2.3" fill="none"/>
<text xml:space="preserve" transform="translate(519.05 1060.70) scale(0.9910 1)" font-size="26.10" x="-3.00 12.05 27.15 40.43 55.85 64.98 78.66 92.16 101.19 110.82" stroke="#000" stroke-width="0.25">Bahar_ctrl</text>
<text xml:space="preserve" transform="translate(769.01 1058.60) scale(0.9521 1)" font-size="26.10" x="-2.75 12.86 28.56 42.40 58.34 67.93 81.80 95.14 104.60 114.16 128.04 139.54" stroke="#000" stroke-width="0.25">Bahar_stress</text>
<text xml:space="preserve" transform="translate(1070.43 1059.50) scale(0.9942 1)" font-size="26.10" x="-3.27 11.57 26.25 39.45 46.14 55.22 68.86 82.33 91.32 100.93" stroke="#000" stroke-width="0.25">Kavir_ctrl</text>
<text xml:space="preserve" transform="translate(1357.74 1064.80) scale(0.9518 1)" font-size="26.10" x="-2.98 12.43 27.71 41.34 48.42 58.01 71.88 85.23 94.69 104.25 118.14 129.64" stroke="#000" stroke-width="0.25">Kavir_stress</text>
</svg>
</body></html>
